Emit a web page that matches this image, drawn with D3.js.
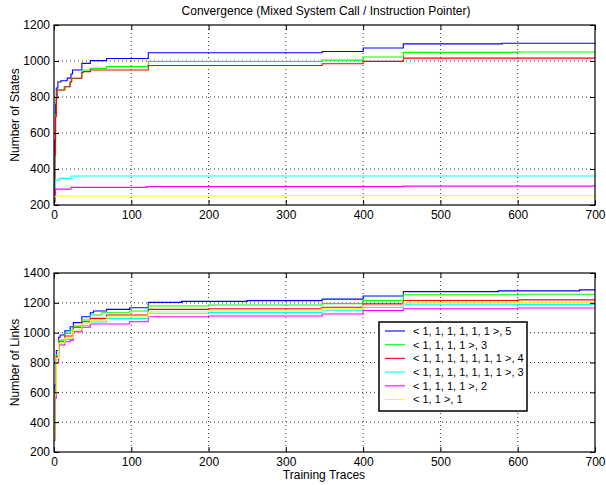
<!DOCTYPE html>
<html>
<head>
<meta charset="utf-8">
<script src="https://cdn.jsdelivr.net/npm/d3@7"></script>
<style>
  body { margin: 0; background: #fff; }
  svg { font-family: "Liberation Sans", Arial, sans-serif; }
  .grid line { stroke: #222; stroke-dasharray: 1,3; stroke-width: 0.9; }
  .tick text { font-size: 12px; }
</style>
</head>
<body>
<div id="chart"></div>
<script>
// Dados: [treinos, valor] (degraus)
const xTicks = [0, 100, 200, 300, 400, 500, 600, 700];
const statesTicks = [200, 400, 600, 800, 1000, 1200];
const linksTicks = [200, 400, 600, 800, 1000, 1200, 1400];

const labels = ['< 1, 1, 1, 1, 1, 1 >, 5', '< 1, 1, 1, 1 >, 3', '< 1, 1, 1, 1, 1, 1, 1 >, 4',
                '< 1, 1, 1, 1, 1, 1, 1 >, 3', '< 1, 1, 1, 1 >, 2', '< 1, 1 >, 1'];
const colors = ['#0000ff', '#00ff00', '#ff0000', '#00ffff', '#ff00ff', '#ffff00'];

// Número de estados
const statesBlue = [[0,220],[1,560],[2,760],[3,850],[5,883],[9,890],[17,905],[22,928],[24,950],[36,987],[47,1002],[68,1014],[122,1046],[347,1053],[400,1072],[452,1095],[580,1099],[700,1100]];
const statesGreen = [[0,220],[1,500],[2,700],[3,800],[4,839],[13,857],[20,876],[22,904],[36,950],[47,959],[68,969],[122,997],[347,1005],[400,1022],[452,1048],[600,1050],[700,1050]];
const statesRed = [[0,215],[1,480],[2,690],[3,790],[4,839],[14,857],[21,885],[23,904],[36,937],[38,941],[47,950],[122,975],[347,985],[400,998],[452,1016],[700,1016]];
const statesCyan = [[0,255],[2,339],[7,348],[22,361],[700,362]];
const statesMagenta = [[0,250],[2,288],[22,298],[120,302],[452,305],[700,305]];
const statesYellow = [[0,247],[3,250],[300,251],[700,252]];

// Número de ligações
const linksBlue = [[0,300],[1,650],[3,880],[6,969],[8,984],[14,1013],[21,1040],[25,1067],[36,1107],[47,1134],[51,1145],[68,1156],[98,1167],[122,1203],[165,1210],[250,1215],[347,1225],[400,1246],[452,1275],[575,1280],[680,1287],[700,1287]];
const linksGreen = [[0,290],[1,620],[3,850],[6,950],[14,995],[21,1018],[25,1044],[36,1085],[47,1118],[62,1134],[98,1145],[122,1179],[200,1185],[347,1195],[400,1216],[452,1254],[600,1258],[700,1258]];
const linksRed = [[0,285],[1,600],[3,840],[6,939],[14,978],[25,1036],[36,1073],[47,1096],[68,1118],[122,1156],[200,1160],[347,1170],[400,1193],[452,1216],[600,1220],[700,1220]];
const linksCyan = [[0,280],[1,580],[3,820],[6,925],[14,955],[25,1010],[36,1048],[47,1072],[68,1095],[122,1130],[200,1135],[347,1150],[400,1169],[452,1187],[600,1190],[700,1190]];
const linksMagenta = [[0,275],[1,560],[3,800],[6,917],[14,939],[21,950],[25,1006],[36,1036],[47,1058],[98,1073],[122,1107],[200,1112],[347,1125],[400,1149],[452,1160],[600,1165],[700,1165]];
const linksYellow = [[0,290],[1,590],[3,830],[6,930],[14,965],[25,1020],[36,1060],[47,1085],[68,1105],[122,1140],[200,1145],[347,1160],[400,1182],[452,1198],[600,1200],[700,1200]];

const width = 606, height = 485;
const svg = d3.select('#chart').append('svg')
  .attr('width', width)
  .attr('height', height);

const fmt = d3.format('d');

function drawPanel(cfg) {
  const x = d3.scaleLinear().domain([0, 700]).range([54, 595]);
  const y = d3.scaleLinear().domain(cfg.domain).range([cfg.bottom, cfg.top]);
  const g = svg.append('g');

  // grelha pontilhada
  g.append('g').attr('class', 'grid')
    .selectAll('line').data(xTicks.slice(1, -1)).enter().append('line')
    .attr('x1', d => x(d)).attr('x2', d => x(d))
    .attr('y1', cfg.top).attr('y2', cfg.bottom);
  g.append('g').attr('class', 'grid')
    .selectAll('line').data(cfg.yTicks.slice(1, -1)).enter().append('line')
    .attr('x1', 54).attr('x2', 595)
    .attr('y1', d => y(d)).attr('y2', d => y(d));

  // séries
  const line = d3.line().x(d => x(d[0])).y(d => y(d[1])).curve(d3.curveStepAfter);
  cfg.series.forEach((s, i) => {
    g.append('path')
      .attr('d', line(s))
      .attr('fill', 'none')
      .attr('stroke', colors[i])
      .attr('stroke-width', 1.1);
  });

  // eixos com ticks para dentro
  g.append('g').attr('transform', `translate(0,${cfg.bottom})`)
    .call(d3.axisBottom(x).tickValues(xTicks).tickFormat(fmt).tickSizeInner(-5).tickSizeOuter(0).tickPadding(5))
    .call(a => a.select('.domain').remove());
  g.append('g').attr('transform', `translate(0,${cfg.top})`)
    .call(d3.axisTop(x).tickValues(xTicks).tickSizeInner(-5).tickSizeOuter(0).tickFormat(''))
    .call(a => a.select('.domain').remove());
  g.append('g').attr('transform', 'translate(54,0)')
    .call(d3.axisLeft(y).tickValues(cfg.yTicks).tickFormat(fmt).tickSizeInner(-5).tickSizeOuter(0).tickPadding(4))
    .call(a => a.select('.domain').remove());
  g.append('g').attr('transform', 'translate(595,0)')
    .call(d3.axisRight(y).tickValues(cfg.yTicks).tickSizeInner(-5).tickSizeOuter(0).tickFormat(''))
    .call(a => a.select('.domain').remove());

  g.selectAll('.tick text').attr('fill', '#000');
  g.selectAll('.tick line').attr('stroke', '#000');

  g.append('rect')
    .attr('x', 54).attr('y', cfg.top)
    .attr('width', 541).attr('height', cfg.bottom - cfg.top)
    .attr('fill', 'none').attr('stroke', '#000').attr('stroke-width', 1.2);

  g.append('text')
    .attr('transform', `translate(15,${(cfg.top + cfg.bottom) / 2}) rotate(-90)`)
    .attr('text-anchor', 'middle')
    .attr('dy', '0.35em')
    .attr('font-size', 12)
    .text(cfg.yLabel);

  return { x, y, g };
}

drawPanel({
  top: 25, bottom: 205, domain: [200, 1200], yTicks: statesTicks,
  yLabel: 'Number of States',
  series: [statesBlue, statesGreen, statesRed, statesCyan, statesMagenta, statesYellow]
});

drawPanel({
  top: 273, bottom: 452, domain: [200, 1400], yTicks: linksTicks,
  yLabel: 'Number of Links',
  series: [linksBlue, linksGreen, linksRed, linksCyan, linksMagenta, linksYellow]
});

// títulos
svg.append('text')
  .attr('x', 326).attr('y', 15)
  .attr('text-anchor', 'middle').attr('font-size', 12)
  .text('Convergence (Mixed System Call / Instruction Pointer)');

svg.append('text')
  .attr('x', 324).attr('y', 479)
  .attr('text-anchor', 'middle').attr('font-size', 12)
  .text('Training Traces');

// legenda
const legend = svg.append('g');
legend.append('rect')
  .attr('x', 379).attr('y', 322).attr('width', 148).attr('height', 89)
  .attr('fill', '#fff').attr('stroke', '#000').attr('stroke-width', 1.5);

const rows = legend.selectAll('g.row').data(labels).enter().append('g')
  .attr('transform', (d, i) => `translate(0,${331 + i * 13.7})`);
rows.append('line')
  .attr('x1', 385).attr('x2', 405)
  .attr('stroke', (d, i) => colors[i]).attr('stroke-width', 1.1);
rows.append('text')
  .attr('x', 413).attr('dy', '0.35em')
  .attr('font-size', 11)
  .text(d => d);
</script>
</body>
</html>
